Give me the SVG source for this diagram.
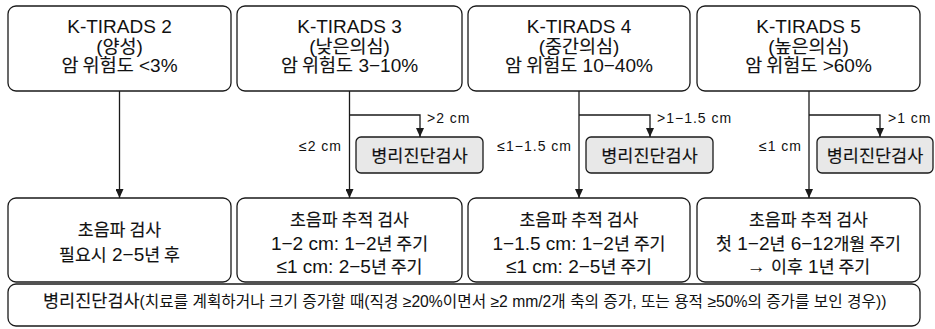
<svg xmlns="http://www.w3.org/2000/svg" width="935" height="329" viewBox="0 0 935 329">
<defs>
<style>
.box{fill:#fff;stroke:#1a1a1a;stroke-width:1.3}
.bx{fill:#e8e8e8;stroke:#1a1a1a;stroke-width:1.3}
.c{fill:none;stroke:#1a1a1a;stroke-width:1.3}
text{font-family:"Liberation Sans","Noto Sans CJK KR",sans-serif;fill:#111}
.t{font-size:19px;text-anchor:middle}
.k18{font-family:"Noto Sans CJK KR",sans-serif;font-size:18.5px;stroke:#111;stroke-width:0.15}
.k16{font-family:"Noto Sans CJK KR",sans-serif;font-size:17.3px;stroke:#111;stroke-width:0.15}
.b{font-family:"Noto Sans CJK KR",sans-serif;font-size:17.5px;text-anchor:middle;stroke:#111;stroke-width:0.15}
.s{font-size:14px;letter-spacing:1px}
.e{text-anchor:end}
</style>
<marker id="ah" viewBox="0 0 9 8" refX="9" refY="4" markerWidth="9" markerHeight="8" markerUnits="userSpaceOnUse" orient="auto">
<path d="M0,0 L9,4 L0,8 z" fill="#1a1a1a"/>
</marker>
</defs>

<g id="connectors">
<path class="c" d="M119.5,91 V198" marker-end="url(#ah)"/>
<path class="c" d="M349.5,91 V198" marker-end="url(#ah)"/>
<path class="c" d="M349.5,115 H420 V137" marker-end="url(#ah)"/>
<path class="c" d="M579,91 V198" marker-end="url(#ah)"/>
<path class="c" d="M579,115 H650 V137" marker-end="url(#ah)"/>
<path class="c" d="M809,91 V198" marker-end="url(#ah)"/>
<path class="c" d="M809,115 H880 V137" marker-end="url(#ah)"/>
<text class="s e" x="342" y="151">≤2 cm</text>
<text class="s" x="427" y="123">&gt;2 cm</text>
<text class="s e" x="572" y="151">≤1−1.5 cm</text>
<text class="s" x="657" y="123">&gt;1−1.5 cm</text>
<text class="s e" x="802" y="151">≤1 cm</text>
<text class="s" x="888" y="123">&gt;1 cm</text>
</g>

<g id="k-tirads-2">
<rect class="box" x="8" y="6" width="223" height="85" rx="8"/>
<text class="t" x="119.5" y="33">K-TIRADS 2</text>
<text class="t" x="119.5" y="52.5">(<tspan class="k18">양성</tspan>)</text>
<text class="t" x="119.5" y="72"><tspan class="k18">암 위험도</tspan> &lt;3%</text>
</g>

<g id="k-tirads-3">
<rect class="box" x="237" y="6" width="225" height="85" rx="8"/>
<text class="t" x="349.5" y="33">K-TIRADS 3</text>
<text class="t" x="349.5" y="52.5">(<tspan class="k18">낮은의심</tspan>)</text>
<text class="t" x="349.5" y="72"><tspan class="k18">암 위험도</tspan> 3−10%</text>
</g>

<g id="k-tirads-4">
<rect class="box" x="468" y="6" width="222" height="85" rx="8"/>
<text class="t" x="579" y="33">K-TIRADS 4</text>
<text class="t" x="579" y="52.5">(<tspan class="k18">중간의심</tspan>)</text>
<text class="t" x="579" y="72"><tspan class="k18">암 위험도</tspan> 10−40%</text>
</g>

<g id="k-tirads-5">
<rect class="box" x="697" y="6" width="223" height="85" rx="8"/>
<text class="t" x="808.5" y="33">K-TIRADS 5</text>
<text class="t" x="808.5" y="52.5">(<tspan class="k18">높은의심</tspan>)</text>
<text class="t" x="808.5" y="72"><tspan class="k18">암 위험도</tspan> &gt;60%</text>
</g>

<g id="biopsy-3">
<rect class="bx" x="356" y="137" width="127" height="36" rx="5"/>
<text class="b" x="419.5" y="162">병리진단검사</text>
</g>

<g id="biopsy-4">
<rect class="bx" x="586" y="137" width="127" height="36" rx="5"/>
<text class="b" x="649.5" y="162">병리진단검사</text>
</g>

<g id="biopsy-5">
<rect class="bx" x="817" y="137" width="116" height="36" rx="5"/>
<text class="b" x="875" y="162">병리진단검사</text>
</g>

<g id="us-2">
<rect class="box" x="8" y="198" width="223" height="84" rx="8"/>
<text class="t" x="119.5" y="236"><tspan class="k16">초음파 검사</tspan></text>
<text class="t" x="119.5" y="261"><tspan class="k16">필요시</tspan> 2−5<tspan class="k16">년 후</tspan></text>
</g>

<g id="us-3">
<rect class="box" x="237" y="198" width="225" height="84" rx="8"/>
<text class="t" x="349.5" y="226"><tspan class="k16">초음파 추적 검사</tspan></text>
<text class="t" x="349.5" y="250">1−2 cm: 1−2<tspan class="k16">년 주기</tspan></text>
<text class="t" x="349.5" y="273">≤1 cm: 2−5<tspan class="k16">년 주기</tspan></text>
</g>

<g id="us-4">
<rect class="box" x="468" y="198" width="222" height="84" rx="8"/>
<text class="t" x="579" y="226"><tspan class="k16">초음파 추적 검사</tspan></text>
<text class="t" x="579" y="250">1−1.5 cm: 1−2<tspan class="k16">년 주기</tspan></text>
<text class="t" x="579" y="273">≤1 cm: 2−5<tspan class="k16">년 주기</tspan></text>
</g>

<g id="us-5">
<rect class="box" x="697" y="198" width="223" height="84" rx="8"/>
<text class="t" x="808.5" y="226"><tspan class="k16">초음파 추적 검사</tspan></text>
<text class="t" x="808.5" y="250"><tspan class="k16">첫</tspan> 1−2<tspan class="k16">년</tspan> 6−12<tspan class="k16">개월 주기</tspan></text>
<text class="t" x="808.5" y="273">→ <tspan class="k16">이후</tspan> 1<tspan class="k16">년 주기</tspan></text>
</g>

<g id="biopsy-note">
<rect class="box" x="8" y="284" width="912" height="42" rx="8"/>
<text x="43" y="307" font-size="17.5px"><tspan font-family="Noto Sans CJK KR, sans-serif" stroke="#111" stroke-width="0.15">병리진단검사</tspan><tspan font-size="15.7px">(치료를 계획하거나 크기 증가할 때(직경 ≥20%이면서 ≥2 mm/2개 축의 증가, 또는 용적 ≥50%의 증가를 보인 경우))</tspan></text>
</g>
</svg>
